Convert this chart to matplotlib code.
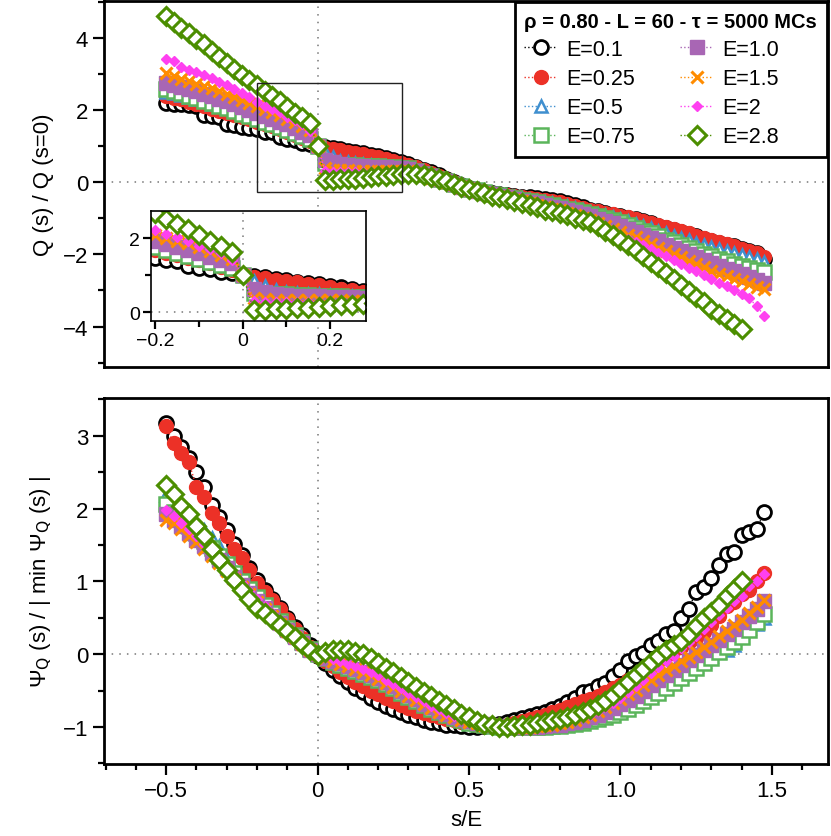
import numpy as np
import matplotlib
matplotlib.use('Agg')
import matplotlib.pyplot as plt
from matplotlib.ticker import FixedLocator, FixedFormatter, MultipleLocator
from matplotlib.patches import Rectangle

plt.rcParams['font.family'] = ['Liberation Sans Narrow', 'Liberation Sans', 'DejaVu Sans']
plt.rcParams['axes.unicode_minus'] = True

# s/E grid shared by all runs (step 0.025), E=2.8 stops at 1.4
s_over_E = np.round(np.arange(80) * 0.025 - 0.5, 3)

E_labels = ['E=0.1', 'E=0.25', 'E=0.5', 'E=0.75', 'E=1.0', 'E=1.5', 'E=2', 'E=2.8']

# ---- top panel: Q(s)/Q(s=0) ----
q_E01 = [2.20, 2.18, 2.16, 2.14, 2.10, 1.86, 1.84, 1.80, 1.62, 1.58, 1.54, 1.50,
         1.47, 1.40, 1.38, 1.24, 1.20, 1.17, 1.08, 1.05,
         1.00, 0.97, 0.94, 0.91, 0.87, 0.83, 0.80, 0.76, 0.72, 0.67, 0.62, 0.56,
         0.50, 0.43, 0.35, 0.27, 0.19, 0.10, 0.01, -0.08, -0.16, -0.22, -0.26, -0.30,
         -0.32, -0.35, -0.37, -0.40, -0.42, -0.44, -0.47, -0.50, -0.52, -0.58, -0.64, -0.70,
         -0.76, -0.80, -0.85, -0.90, -0.94, -0.98, -1.03, -1.08, -1.14, -1.20, -1.26, -1.32,
         -1.38, -1.44, -1.50, -1.57, -1.63, -1.68, -1.73, -1.78, -1.84, -1.90, -1.97, -2.13]
q_E025 = [2.38, 2.34, 2.30, 2.22, 2.16, 2.10, 2.04, 1.98, 1.93, 1.86, 1.80, 1.75,
          1.68, 1.61, 1.55, 1.48, 1.40, 1.32, 1.22, 1.13,
          1.00, 0.96, 0.92, 0.88, 0.85, 0.81, 0.77, 0.73, 0.69, 0.64, 0.59, 0.54,
          0.48, 0.41, 0.34, 0.26, 0.18, 0.09, 0.00, -0.08, -0.16, -0.21, -0.25, -0.29,
          -0.32, -0.35, -0.38, -0.41, -0.44, -0.47, -0.50, -0.53, -0.56, -0.61, -0.66, -0.71,
          -0.76, -0.80, -0.84, -0.88, -0.93, -0.97, -1.02, -1.07, -1.12, -1.18, -1.24, -1.30,
          -1.36, -1.42, -1.48, -1.54, -1.60, -1.66, -1.72, -1.78, -1.84, -1.90, -1.96, -2.08]
q_E05 = [2.50, 2.46, 2.42, 2.36, 2.30, 2.24, 2.18, 2.12, 2.06, 1.99, 1.92, 1.85,
         1.78, 1.71, 1.64, 1.56, 1.48, 1.39, 1.30, 1.20,
         1.00, 0.84, 0.70, 0.60, 0.55, 0.52, 0.50, 0.48, 0.46, 0.45, 0.43, 0.41,
         0.39, 0.32, 0.25, 0.17, 0.10, 0.03, -0.04, -0.11, -0.18, -0.22, -0.26, -0.30,
         -0.34, -0.38, -0.41, -0.45, -0.48, -0.52, -0.55, -0.59, -0.62, -0.67, -0.72, -0.77,
         -0.82, -0.87, -0.92, -0.97, -1.02, -1.08, -1.15, -1.21, -1.28, -1.35, -1.42, -1.48,
         -1.55, -1.61, -1.68, -1.74, -1.80, -1.86, -1.91, -1.97, -2.02, -2.08, -2.14, -2.20]
q_E075 = [2.58, 2.52, 2.46, 2.40, 2.34, 2.26, 2.20, 2.12, 2.06, 1.98, 1.90, 1.84,
          1.76, 1.68, 1.60, 1.52, 1.44, 1.36, 1.28, 1.20,
          1.00, 0.52, 0.50, 0.49, 0.48, 0.47, 0.46, 0.45, 0.44, 0.43, 0.42, 0.40,
          0.38, 0.31, 0.24, 0.17, 0.10, 0.03, -0.04, -0.11, -0.18, -0.23, -0.27, -0.32,
          -0.36, -0.40, -0.44, -0.48, -0.52, -0.56, -0.60, -0.64, -0.68, -0.73, -0.78, -0.83,
          -0.88, -0.93, -0.99, -1.04, -1.10, -1.18, -1.26, -1.34, -1.42, -1.50, -1.59, -1.67,
          -1.75, -1.83, -1.90, -1.98, -2.05, -2.12, -2.19, -2.26, -2.32, -2.38, -2.44, -2.50]
q_E10 = [2.74, 2.70, 2.64, 2.58, 2.52, 2.44, 2.38, 2.30, 2.24, 2.16, 2.08, 2.00,
         1.92, 1.84, 1.76, 1.68, 1.60, 1.50, 1.40, 1.32,
         1.00, 0.62, 0.55, 0.50, 0.47, 0.45, 0.44, 0.43, 0.42, 0.41, 0.40, 0.39,
         0.37, 0.30, 0.23, 0.16, 0.09, 0.02, -0.05, -0.12, -0.19, -0.24, -0.29, -0.33,
         -0.38, -0.42, -0.46, -0.51, -0.55, -0.59, -0.63, -0.68, -0.72, -0.78, -0.83, -0.89,
         -0.95, -1.01, -1.07, -1.14, -1.20, -1.29, -1.38, -1.46, -1.55, -1.64, -1.73, -1.81,
         -1.90, -1.99, -2.08, -2.16, -2.25, -2.32, -2.40, -2.47, -2.55, -2.62, -2.70, -2.78]
q_E15 = [3.02, 2.94, 2.86, 2.80, 2.72, 2.66, 2.60, 2.52, 2.45, 2.36, 2.28, 2.20,
         2.10, 2.02, 1.94, 1.86, 1.76, 1.66, 1.56, 1.44,
         1.00, 0.38, 0.35, 0.33, 0.33, 0.32, 0.32, 0.32, 0.32, 0.32, 0.31, 0.31,
         0.30, 0.25, 0.19, 0.13, 0.08, 0.01, -0.06, -0.13, -0.20, -0.25, -0.30, -0.35,
         -0.40, -0.44, -0.49, -0.53, -0.58, -0.63, -0.68, -0.73, -0.78, -0.85, -0.91, -0.98,
         -1.05, -1.13, -1.22, -1.30, -1.38, -1.46, -1.53, -1.62, -1.72, -1.81, -1.90, -1.99,
         -2.08, -2.17, -2.26, -2.36, -2.45, -2.53, -2.60, -2.68, -2.75, -2.82, -2.90, -2.97]
q_E2 = [3.40, 3.36, 3.20, 3.12, 3.06, 2.96, 2.90, 2.78, 2.68, 2.58, 2.48, 2.36,
        2.22, 2.12, 2.04, 1.94, 1.80, 1.72, 1.60, 1.42,
        1.00, 0.30, 0.28, 0.28, 0.27, 0.27, 0.27, 0.28, 0.28, 0.28, 0.28, 0.29,
        0.29, 0.24, 0.18, 0.13, 0.07, 0.00, -0.07, -0.13, -0.20, -0.26, -0.31, -0.37,
        -0.42, -0.47, -0.52, -0.57, -0.62, -0.68, -0.73, -0.79, -0.85, -0.92, -1.00, -1.07,
        -1.15, -1.24, -1.32, -1.41, -1.50, -1.58, -1.66, -1.75, -1.85, -1.95, -2.05, -2.16,
        -2.26, -2.37, -2.47, -2.58, -2.68, -2.78, -2.88, -2.98, -3.10, -3.22, -3.44, -3.70]
q_E28 = [4.60, 4.45, 4.28, 4.12, 3.96, 3.82, 3.64, 3.46, 3.30, 3.14, 2.97, 2.84,
         2.68, 2.52, 2.38, 2.24, 2.08, 1.93, 1.80, 1.63,
         1.00, 0.06, 0.06, 0.08, 0.09, 0.10, 0.12, 0.14, 0.16, 0.18, 0.20, 0.22,
         0.24, 0.24, 0.20, 0.14, 0.08, 0.02, -0.05, -0.12, -0.19, -0.25, -0.31, -0.37,
         -0.42, -0.47, -0.52, -0.58, -0.64, -0.70, -0.76, -0.81, -0.86, -0.92, -0.98, -1.04,
         -1.10, -1.22, -1.34, -1.47, -1.60, -1.74, -1.88, -2.04, -2.20, -2.36, -2.52, -2.68,
         -2.85, -3.01, -3.17, -3.33, -3.50, -3.65, -3.80, -3.94, -4.08]

# ---- bottom panel: Psi_Q(s)/|min Psi_Q(s)| ----
psi_E01 = [3.18, 3.00, 2.85, 2.70, 2.50, 2.30, 2.05, 1.88, 1.70, 1.52, 1.36, 1.18,
           1.02, 0.88, 0.76, 0.63, 0.50, 0.37, 0.26, 0.13,
           -0.02, -0.12, -0.22, -0.30, -0.38, -0.46, -0.52, -0.60, -0.66, -0.71, -0.76, -0.80,
           -0.84, -0.87, -0.90, -0.93, -0.95, -0.97, -0.98, -0.99, -1.00, -1.00, -0.99, -0.97,
           -0.96, -0.93, -0.91, -0.88, -0.85, -0.82, -0.79, -0.75, -0.71, -0.66, -0.60, -0.52,
           -0.50, -0.44, -0.40, -0.30, -0.22, -0.10, -0.03, 0.02, 0.12, 0.18, 0.27, 0.32,
           0.50, 0.62, 0.86, 0.92, 1.05, 1.23, 1.37, 1.40, 1.64, 1.68, 1.72, 1.96]
psi_E025 = [3.13, 2.90, 2.76, 2.64, 2.30, 2.16, 1.94, 1.80, 1.62, 1.44, 1.32, 1.16,
            0.98, 0.86, 0.74, 0.62, 0.48, 0.34, 0.22, 0.10,
            -0.02, -0.10, -0.17, -0.24, -0.31, -0.38, -0.44, -0.50, -0.55, -0.60, -0.65, -0.70,
            -0.74, -0.78, -0.81, -0.84, -0.86, -0.89, -0.91, -0.93, -0.95, -0.97, -0.99, -1.00,
            -1.00, -0.98, -0.95, -0.92, -0.89, -0.86, -0.83, -0.80, -0.77, -0.73, -0.69, -0.65,
            -0.61, -0.57, -0.52, -0.47, -0.42, -0.36, -0.30, -0.23, -0.16, -0.09, -0.02, 0.05,
            0.10, 0.16, 0.22, 0.30, 0.40, 0.52, 0.66, 0.72, 0.82, 0.88, 1.00, 1.12]
psi_E05 = [2.19, 2.10, 2.00, 1.90, 1.80, 1.70, 1.59, 1.48, 1.30, 1.16, 1.02, 0.90,
           0.78, 0.67, 0.56, 0.46, 0.36, 0.26, 0.16, 0.07,
           0.00, -0.06, -0.11, -0.15, -0.19, -0.23, -0.27, -0.31, -0.36, -0.41, -0.47, -0.53,
           -0.59, -0.64, -0.69, -0.74, -0.79, -0.83, -0.87, -0.90, -0.93, -0.95, -0.97, -0.98,
           -0.99, -1.00, -1.00, -1.00, -1.00, -1.00, -0.99, -0.98, -0.97, -0.95, -0.93, -0.91,
           -0.89, -0.86, -0.83, -0.79, -0.75, -0.70, -0.65, -0.59, -0.53, -0.47, -0.41, -0.35,
           -0.28, -0.22, -0.16, -0.09, -0.03, 0.03, 0.06, 0.12, 0.30, 0.36, 0.42, 0.50]
psi_E075 = [2.07, 1.96, 1.86, 1.76, 1.66, 1.56, 1.46, 1.35, 1.24, 1.12, 1.00, 0.89,
            0.78, 0.67, 0.56, 0.46, 0.36, 0.26, 0.16, 0.07,
            0.00, -0.06, -0.11, -0.15, -0.19, -0.23, -0.27, -0.31, -0.36, -0.41, -0.47, -0.53,
            -0.59, -0.65, -0.70, -0.75, -0.80, -0.84, -0.88, -0.91, -0.94, -0.96, -0.98, -0.99,
            -1.00, -1.00, -1.00, -1.00, -1.00, -1.00, -1.00, -0.99, -0.99, -0.98, -0.96, -0.94,
            -0.92, -0.89, -0.86, -0.83, -0.79, -0.75, -0.70, -0.65, -0.59, -0.53, -0.46, -0.40,
            -0.33, -0.26, -0.19, -0.12, -0.05, 0.03, 0.10, 0.17, 0.24, 0.33, 0.44, 0.55]
psi_E10 = [1.92, 1.84, 1.76, 1.67, 1.57, 1.48, 1.39, 1.29, 1.18, 1.06, 0.95, 0.84,
           0.73, 0.63, 0.53, 0.43, 0.33, 0.24, 0.15, 0.06,
           0.00, -0.05, -0.09, -0.12, -0.16, -0.20, -0.24, -0.28, -0.33, -0.38, -0.44, -0.50,
           -0.56, -0.62, -0.68, -0.73, -0.78, -0.82, -0.86, -0.89, -0.92, -0.94, -0.96, -0.98,
           -0.99, -1.00, -1.00, -1.00, -1.00, -1.00, -0.99, -0.98, -0.97, -0.95, -0.93, -0.90,
           -0.87, -0.83, -0.79, -0.74, -0.69, -0.63, -0.57, -0.50, -0.43, -0.36, -0.29, -0.22,
           -0.15, -0.08, -0.01, 0.06, 0.13, 0.20, 0.27, 0.35, 0.44, 0.52, 0.62, 0.73]
psi_E15 = [1.85, 1.80, 1.72, 1.63, 1.54, 1.45, 1.35, 1.25, 1.14, 1.03, 0.92, 0.82,
           0.72, 0.62, 0.52, 0.42, 0.32, 0.23, 0.14, 0.05,
           0.00, -0.06, -0.10, -0.13, -0.17, -0.21, -0.25, -0.29, -0.34, -0.39, -0.45, -0.51,
           -0.57, -0.63, -0.69, -0.74, -0.79, -0.83, -0.87, -0.90, -0.93, -0.95, -0.97, -0.98,
           -0.99, -1.00, -1.00, -1.00, -1.00, -0.99, -0.98, -0.97, -0.95, -0.93, -0.90, -0.87,
           -0.83, -0.78, -0.73, -0.67, -0.61, -0.55, -0.49, -0.42, -0.36, -0.29, -0.22, -0.16,
           -0.10, -0.04, 0.03, 0.10, 0.17, 0.25, 0.32, 0.40, 0.47, 0.56, 0.65, 0.75]
psi_E2 = [1.98, 1.90, 1.80, 1.72, 1.62, 1.52, 1.43, 1.34, 1.22, 1.10, 0.98, 0.87,
          0.76, 0.66, 0.56, 0.46, 0.36, 0.26, 0.16, 0.07,
          0.00, -0.04, -0.07, -0.10, -0.14, -0.17, -0.20, -0.24, -0.29, -0.35, -0.41, -0.47,
          -0.53, -0.59, -0.65, -0.71, -0.76, -0.81, -0.85, -0.89, -0.92, -0.94, -0.96, -0.98,
          -0.99, -1.00, -1.00, -1.00, -1.00, -0.99, -0.98, -0.97, -0.95, -0.93, -0.90, -0.87,
          -0.83, -0.78, -0.73, -0.67, -0.60, -0.52, -0.44, -0.35, -0.26, -0.18, -0.10, -0.03,
          0.08, 0.16, 0.25, 0.34, 0.44, 0.54, 0.64, 0.73, 0.80, 0.93, 1.00, 1.10]
psi_E28 = [2.33, 2.20, 2.04, 1.92, 1.76, 1.62, 1.45, 1.30, 1.16, 1.02, 0.88, 0.76,
           0.64, 0.56, 0.48, 0.40, 0.32, 0.23, 0.14, 0.06,
           -0.01, 0.03, 0.05, 0.06, 0.05, 0.03, 0.00, -0.05, -0.12, -0.19, -0.25, -0.32,
           -0.38, -0.45, -0.52, -0.58, -0.64, -0.70, -0.76, -0.82, -0.87, -0.92, -0.96, -0.98,
           -1.00, -1.00, -0.99, -0.98, -0.97, -0.95, -0.93, -0.91, -0.89, -0.86, -0.83, -0.80,
           -0.76, -0.70, -0.64, -0.56, -0.48, -0.38, -0.28, -0.20, -0.11, -0.02, 0.06, 0.12,
           0.18, 0.28, 0.38, 0.50, 0.58, 0.68, 0.80, 0.90, 1.00]

q_series = [q_E01, q_E025, q_E05, q_E075, q_E10, q_E15, q_E2, q_E28]
psi_series = [psi_E01, psi_E025, psi_E05, psi_E075, psi_E10, psi_E15, psi_E2, psi_E28]

styles = [
    dict(color='black', marker='o', ms=10, mfc='white', mew=2.0),
    dict(color='#ec3127', marker='o', ms=10, mfc='#ec3127', mew=1.0),
    dict(color='#3f8fcf', marker='^', ms=8.5, mfc='white', mew=1.8),
    dict(color='#5bb55b', marker='s', ms=9.5, mfc='white', mew=1.8),
    dict(color='#a866b4', marker='s', ms=9.5, mfc='#a866b4', mew=1.0),
    dict(color='#ff8c00', marker='x', ms=8.5, mew=2.2),
    dict(color='#ff40f0', marker='D', ms=5.5, mfc='#ff40f0', mew=1.0),
    dict(color='#4b8e00', marker='D', ms=9, mfc='white', mew=2.2),
]

W, H = 831, 837
fig = plt.figure(figsize=(W / 100, H / 100), dpi=100)
ax1 = fig.add_axes([104 / W, 1 - 368 / H, 724 / W, 366 / H])
ax2 = fig.add_axes([104 / W, 1 - 765 / H, 724 / W, 366 / H])
axin = fig.add_axes([151 / W, 1 - 322 / H, 215 / W, 110 / H])

dot = (0, (1, 4))


def draw(ax, series):
    handles = []
    for y, st, lab in zip(series, styles, E_labels):
        h, = ax.plot(s_over_E[:len(y)], y, ls=':', lw=1.0, label=lab, **st)
        handles.append(h)
    ax.axhline(0, color='#777777', ls=dot, lw=1.1, zorder=0)
    ax.axvline(0, color='#777777', ls=dot, lw=1.1, zorder=0)
    return handles


def style_axes(ax, lw=2.0, fs=16):
    for sp in ax.spines.values():
        sp.set_linewidth(lw)
    ax.tick_params(which='both', direction='out', width=1.6, labelsize=fs,
                   top=False, right=False)
    ax.tick_params(which='major', length=8)
    ax.tick_params(which='minor', length=4.5)


# top panel
handles = draw(ax1, q_series)
ax1.set_xlim(-0.705, 1.685)
ax1.set_ylim(-5.12, 5.02)
style_axes(ax1)
ax1.yaxis.set_major_locator(FixedLocator([-4, -2, 0, 2, 4]))
ax1.yaxis.set_major_formatter(FixedFormatter(['\u22124', '\u22122', '0', '2', '4']))
ax1.yaxis.set_minor_locator(MultipleLocator(1))
ax1.tick_params(axis='x', which='both', bottom=False, labelbottom=False)
ax1.set_ylabel('Q (s) / Q (s=0)', fontsize=16, labelpad=6)
ax1.add_patch(Rectangle((-0.2, -0.28), 0.48, 3.03, fill=False, ec='#222222', lw=1.0, zorder=5))

leg = ax1.legend(handles=handles, ncol=2, loc='upper right', borderaxespad=0.05,
                 title='\u03c1 = 0.80 - L = 60 - \u03c4 = 5000 MCs',
                 prop={'family': ['Liberation Sans', 'DejaVu Sans'], 'size': 15.5},
                 fancybox=False, framealpha=1, edgecolor='black', handlelength=1.5,
                 handletextpad=0.45, columnspacing=2.1, labelspacing=0.38, borderpad=0.45)
leg.get_frame().set_linewidth(2.0)
leg.get_title().set_fontproperties({'family': ['Liberation Sans', 'DejaVu Sans'],
                                    'size': 14.5, 'weight': 'bold'})
leg._legend_box.align = 'left'

# inset
draw(axin, q_series)
axin.set_xlim(-0.21, 0.282)
axin.set_ylim(-0.24, 2.74)
style_axes(axin, lw=1.2, fs=14)
axin.xaxis.set_major_locator(FixedLocator([-0.2, 0, 0.2]))
axin.xaxis.set_major_formatter(FixedFormatter(['\u22120.2', '0', '0.2']))
axin.xaxis.set_minor_locator(MultipleLocator(0.1))
axin.yaxis.set_major_locator(FixedLocator([0, 2]))
axin.yaxis.set_major_formatter(FixedFormatter(['0', '2']))
axin.yaxis.set_minor_locator(MultipleLocator(1))
axin.tick_params(which='major', length=6)
axin.tick_params(which='minor', length=4)
axin.tick_params(axis='both', pad=2)

# bottom panel
draw(ax2, psi_series)
ax2.set_xlim(-0.705, 1.685)
ax2.set_ylim(-1.51, 3.52)
style_axes(ax2)
ax2.xaxis.set_major_locator(FixedLocator([-0.5, 0, 0.5, 1.0, 1.5]))
ax2.xaxis.set_major_formatter(FixedFormatter(['\u22120.5', '0', '0.5', '1.0', '1.5']))
ax2.xaxis.set_minor_locator(MultipleLocator(0.1))
ax2.yaxis.set_major_locator(FixedLocator([-1, 0, 1, 2, 3]))
ax2.yaxis.set_major_formatter(FixedFormatter(['\u22121', '0', '1', '2', '3']))
ax2.yaxis.set_minor_locator(MultipleLocator(0.5))
ax2.set_xlabel('s/E', fontsize=16, labelpad=6)
ax2.set_ylabel('\u03a8$_\\mathrm{Q}$ (s) / | min \u03a8$_\\mathrm{Q}$ (s) |', fontsize=16, labelpad=6)

fig.savefig('out.png', dpi=100)
